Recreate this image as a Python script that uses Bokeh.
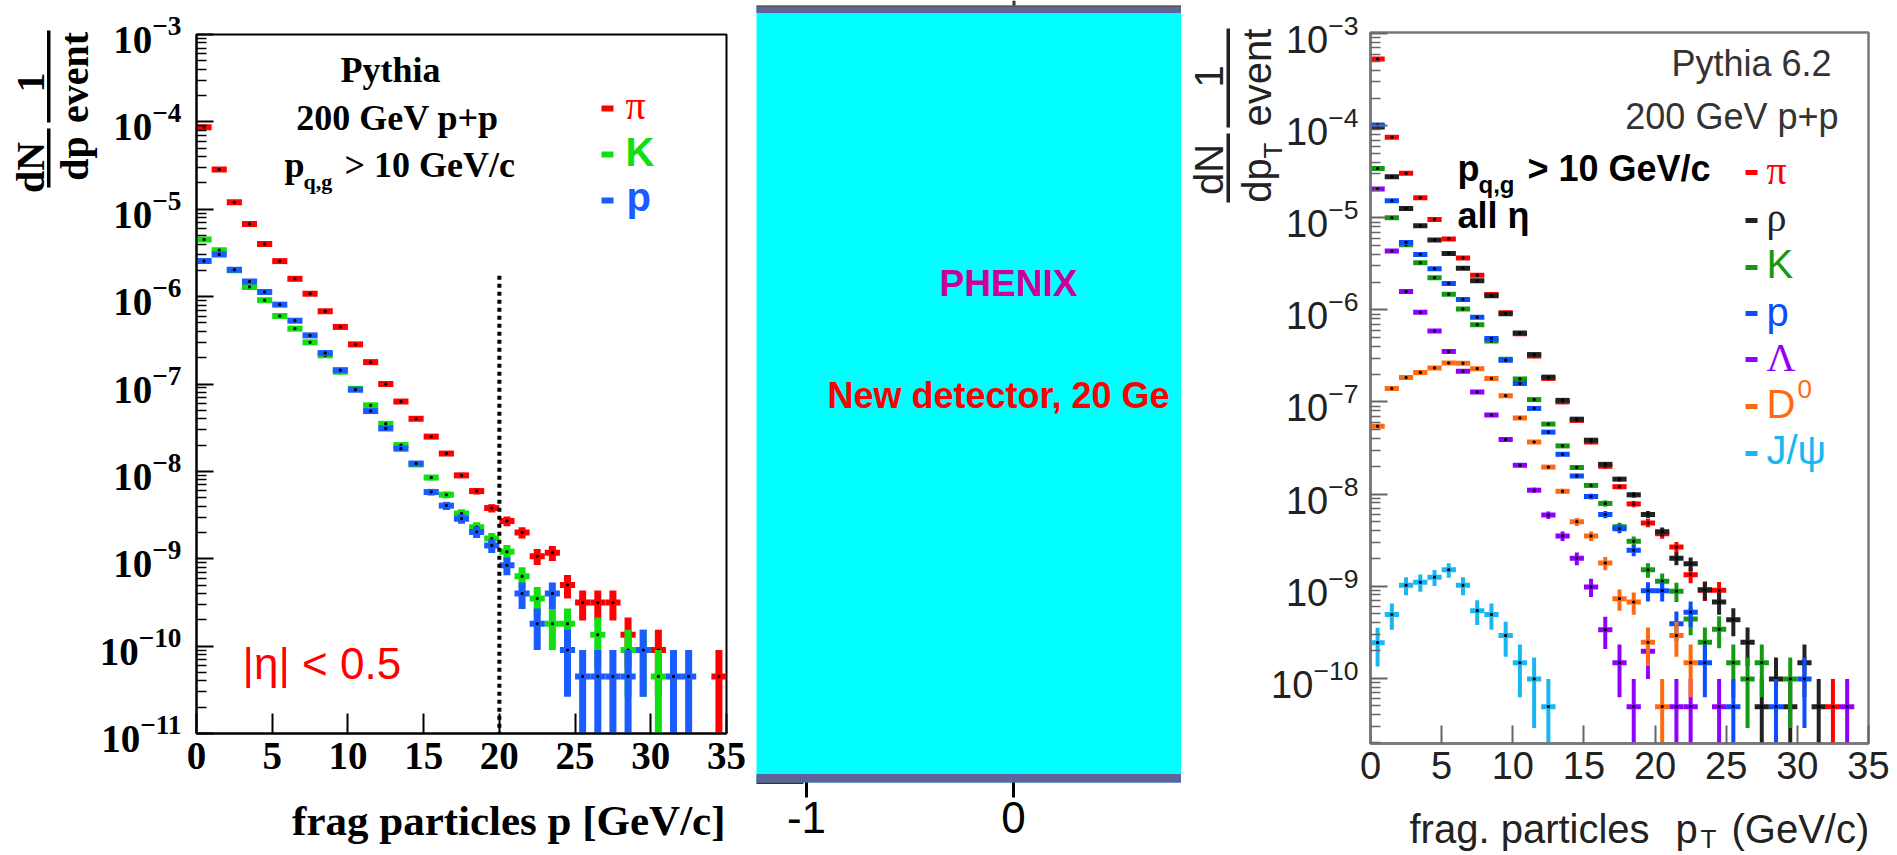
import math
from bokeh.plotting import figure
from bokeh.layouts import row
from bokeh.models import Range1d, FixedTicker, ColumnDataSource, GridBox
from bokeh.core.properties import value
from bokeh.embed import file_html
from bokeh.resources import INLINE

# ---------------- data ----------------
bin_centers = [0.5, 1.5, 2.5, 3.5, 4.5, 5.5, 6.5, 7.5, 8.5, 9.5, 10.5, 11.5, 12.5, 13.5,
               14.5, 15.5, 16.5, 17.5, 18.5, 19.5, 20.5, 21.5, 22.5, 23.5, 24.5, 25.5,
               26.5, 27.5, 28.5, 29.5, 30.5, 31.5, 32.5, 33.5, 34.5]
bin_width = 1.0

# Left panel: |eta| < 0.5, dN/dp per event
left_pi = [8.7e-5, 2.85e-5, 1.2e-5, 6.8e-6, 4.0e-6, 2.55e-6, 1.6e-6, 1.08e-6, 6.8e-7, 4.5e-7,
           2.84e-7, 1.78e-7, 1.0e-7, 6.3e-8, 4.0e-8, 2.5e-8, 1.6e-8, 9.0e-9, 5.95e-9, 3.8e-9,
           2.7e-9, 2.0e-9, 1.07e-9, 1.17e-9, 5.0e-10, 3.15e-10, 3.15e-10, 3.15e-10, 1.35e-10, None,
           9.0e-11, None, None, None, 4.5e-11]
left_K = [4.5e-6, 3.4e-6, 2.0e-6, 1.29e-6, 9.1e-7, 6.0e-7, 4.3e-7, 3.0e-7, 2.13e-7, 1.38e-7,
          8.8e-8, 5.7e-8, 3.5e-8, 2.0e-8, 1.2e-8, 8.5e-9, 5.4e-9, 3.3e-9, 2.3e-9, 1.7e-9,
          1.2e-9, 6.3e-10, 3.5e-10, 1.8e-10, 1.8e-10, None, 1.35e-10, None, 9.0e-11, 9.0e-11,
          4.5e-11, None, None, None, None]
left_p = [2.55e-6, 3.04e-6, 2.03e-6, 1.49e-6, 1.13e-6, 8.1e-7, 5.3e-7, 3.6e-7, 2.26e-7, 1.44e-7,
          8.6e-8, 4.9e-8, 3.1e-8, 1.82e-8, 1.23e-8, 5.8e-9, 4.05e-9, 2.87e-9, 2.03e-9, 1.42e-9,
          8.4e-10, 4.0e-10, 1.8e-10, 4.0e-10, 9.0e-11, 4.5e-11, 4.5e-11, 4.5e-11, 4.5e-11, 9.0e-11,
          None, 4.5e-11, 4.5e-11, None, None]
left_unit = 4.5e-11        # height of a single entry
left_cut = 20.0            # dotted line position
left_cut_top = 1.9e-6
left_xticks = [0, 5, 10, 15, 20, 25, 30, 35]
left_ylim = (1e-11, 1e-3)

# Right panel: all eta, dN/dpT per event
right_pi = [5.3e-4, 7.5e-5, 3.04e-5, 1.65e-5, 9.6e-6, 5.9e-6, 3.67e-6, 2.38e-6, 1.47e-6, 9.3e-7,
            5.5e-7, 3.15e-7, 1.8e-7, 1.0e-7, 6.3e-8, 3.67e-8, 2.0e-8, 1.2e-8, 7.8e-9, 4.85e-9,
            3.7e-9, 2.65e-9, 1.33e-9, 9.0e-10, 9.0e-10, None, None, None, None, None,
            None, None, 4.9e-11, None, None]
right_rho = [9.7e-5, 2.8e-5, 1.26e-5, 8.2e-6, 5.75e-6, 4.1e-6, 2.84e-6, 2.07e-6, 1.42e-6, 9.1e-7,
             5.6e-7, 3.27e-7, 1.86e-7, 1.04e-7, 6.5e-8, 3.84e-8, 2.1e-8, 1.45e-8, 9.8e-9, 6.0e-9,
             3.9e-9, 2.0e-9, 1.75e-9, 9.1e-10, 6.7e-10, 4.3e-10, 2.45e-10, 4.9e-11, 9.8e-11, 4.9e-11,
             1.47e-10, 4.9e-11, None, None, None]
right_K = [3.44e-5, 1.0e-5, 5.1e-6, 3.24e-6, 2.23e-6, 1.48e-6, 1.02e-6, 6.9e-7, 4.6e-7, 2.9e-7,
           1.78e-7, 1.06e-7, 5.75e-8, 3.33e-8, 1.94e-8, 1.24e-8, 7.9e-9, 4.4e-9, 3.06e-9, 1.5e-9,
           1.13e-9, 8.8e-10, 4.4e-10, 2.45e-10, 3.4e-10, 1.47e-10, 9.8e-11, 1.47e-10, None, 9.8e-11,
           None, None, None, None, None]
right_p = [1.02e-4, 1.53e-5, 5.4e-6, 4.0e-6, 2.8e-6, 1.94e-6, 1.3e-6, 8.3e-7, 4.9e-7, 2.84e-7,
           1.59e-7, 8.5e-8, 4.7e-8, 2.7e-8, 1.57e-8, 9.4e-9, 6.0e-9, 4.2e-9, 2.45e-9, 8.9e-10,
           8.9e-10, 3.9e-10, 5.2e-10, 1.47e-10, None, 4.9e-11, None, None, 4.9e-11, None,
           9.8e-11, None, None, None, None]
right_Lambda = [2.05e-5, 4.35e-6, 1.58e-6, 9.4e-7, 5.9e-7, 3.53e-7, 2.15e-7, 1.28e-7, 7.2e-8, 3.9e-8,
                2.05e-8, 1.1e-8, 5.9e-9, 3.5e-9, 2.0e-9, 9.8e-10, 3.35e-10, 1.47e-10, 4.9e-11, 1.96e-10,
                None, 4.9e-11, 4.9e-11, None, 4.9e-11, None, None, None, None, None,
                None, None, None, 4.9e-11, None]
right_D0 = [5.45e-8, 1.4e-7, 1.84e-7, 2.09e-7, 2.34e-7, 2.65e-7, 2.63e-7, 2.3e-7, 1.8e-7, 1.17e-7,
            6.7e-8, 3.67e-8, 1.96e-8, 1.07e-8, 5.0e-9, 3.5e-9, 1.78e-9, 7.3e-10, 6.7e-10, 2.45e-10,
            4.9e-11, 2.9e-10, 1.47e-10, None, None, None, None, None, None, None,
            None, None, None, None, None]
right_Jpsi = [2.43e-10, 4.9e-10, 1.02e-9, 1.1e-9, 1.25e-9, 1.5e-9, 1.02e-9, 5.4e-10, 4.9e-10, 2.9e-10,
              1.47e-10, 9.8e-11, 4.9e-11, None, None, None, None, None, None, None,
              None, None, None, None, None, None, None, None, None, None,
              None, None, None, None, None]
right_unit = 4.9e-11
right_xticks = [0, 5, 10, 15, 20, 25, 30, 35]
right_ylim = (1.95e-11, 1.03e-3)

mid_ticks = [-1, 0]
mid_tick_labels = {-1: "-1", 0: "0"}
mid_xlim = (-1.2415, 0.8116)

# ---------------- styling ----------------
SERIF = "Liberation Serif"
SANS = "Liberation Sans"
MID = {SERIF: 0.3375, SANS: 0.3465}   # (ascent - descent) / 2, in em
L_COL = {"pi": "#ff0000", "K": "#10e010", "p": "#1a5cff"}
R_COL = {"pi": "#ff0000", "rho": "#222222", "K": "#139a13", "p": "#0b4dff",
         "Lambda": "#9000ff", "D0": "#ff6a10", "Jpsi": "#18b6f2"}

W_A, W_B, W_C, H = 756, 425, 716, 855
W_ALL = W_A + W_B + W_C
A_FL, A_FR, A_FT, A_FB = 196, 726, 34, 733
B_FT, B_FB = 5, 782
C_OFF = W_A + W_B
C_FL, C_FR, C_FT, C_FB = 1370, 1868, 32, 743


def decade_ticks(lo_exp, hi_exp):
    return [10.0 ** e for e in range(lo_exp, hi_exp + 1)]


def minor_ticks(lo_exp, hi_exp):
    return [m * 10.0 ** e for e in range(lo_exp, hi_exp + 1) for m in range(2, 10)]


def add_series(p, vals, unit, color, hw, vw, ymin):
    xs, ys, lo, hi = [], [], [], []
    for x, v in zip(bin_centers, vals):
        if v is None:
            continue
        e = math.sqrt(v * unit)
        xs.append(x)
        ys.append(v)
        lo.append(v - e if v - e > 0 else ymin * 0.01)
        hi.append(v + e)
    src = ColumnDataSource(dict(x=xs, y=ys, lo=lo, hi=hi,
                                x0=[x - bin_width / 2 for x in xs],
                                x1=[x + bin_width / 2 for x in xs]))
    p.segment("x", "lo", "x", "hi", source=src, line_color=color, line_width=vw)
    p.segment("x0", "y", "x1", "y", source=src, line_color=color, line_width=hw)
    p.scatter("x", "y", source=src, size=2, color="black", marker="square")


def style_axes(p, color, font, fstyle, fsize, lw):
    for ax in (p.xaxis[0], p.yaxis[0]):
        ax.axis_line_color = color
        ax.axis_line_width = lw
        ax.major_tick_line_color = color
        ax.major_tick_line_width = 2
        ax.minor_tick_line_color = color
        ax.minor_tick_line_width = 1.5
        ax.major_tick_out = 0
        ax.minor_tick_out = 0
        ax.major_label_text_font = font
        ax.major_label_text_font_style = fstyle
        ax.major_label_text_font_size = fsize
    p.xaxis.minor_tick_line_color = None


# ---------------- left panel ----------------
pA = figure(width=W_A, height=H, x_range=Range1d(0, 35), y_range=Range1d(*left_ylim),
            y_axis_type="log", output_backend="svg", toolbar_location=None,
            min_border_left=A_FL, min_border_right=W_A - A_FR,
            min_border_top=A_FT, min_border_bottom=H - A_FB)
pA.frame_align = False
pA.grid.visible = False
pA.outline_line_color = "black"
pA.outline_line_width = 2
pA.outline_line_alpha = 1
pA.xaxis.ticker = FixedTicker(ticks=left_xticks)
pA.yaxis.ticker = FixedTicker(ticks=decade_ticks(-11, -3), minor_ticks=minor_ticks(-11, -4))
style_axes(pA, "black", SERIF, "bold", "39px", 2)
pA.xaxis.major_label_text_color = "black"
pA.yaxis.major_label_text_color = "black"
pA.xaxis.major_tick_in = 20
pA.xaxis.major_label_standoff = 9
pA.yaxis.major_tick_in = 17
pA.yaxis.minor_tick_in = 10
pA.yaxis.major_label_standoff = 15

add_series(pA, left_pi, left_unit, L_COL["pi"], 6, 7, left_ylim[0])
add_series(pA, left_K, left_unit, L_COL["K"], 6, 7, left_ylim[0])
add_series(pA, left_p, left_unit, L_COL["p"], 6, 7, left_ylim[0])
pA.segment(x0=[left_cut], y0=[left_ylim[0] * 0.5], x1=[left_cut], y1=[left_cut_top],
           line_color="black", line_width=4, line_dash="4 4")

# ---------------- middle panel ----------------
mid_top = B_FB - B_FT
pB = figure(width=W_B, height=H, x_range=Range1d(*mid_xlim), y_range=Range1d(0, mid_top),
            output_backend="svg", toolbar_location=None, y_axis_location=None,
            min_border_left=0, min_border_right=0, min_border_top=B_FT,
            min_border_bottom=H - B_FB)
pB.frame_align = False
pB.grid.visible = False
pB.outline_line_color = None
pB.background_fill_color = "#00ffff"
bar_col = "#61619c"
pB.quad(left=[mid_xlim[0]], right=[mid_xlim[1]], bottom=[0], top=[8], color=bar_col)
pB.quad(left=[mid_xlim[0]], right=[mid_xlim[1]], bottom=[mid_top - 7], top=[mid_top - 1], color=bar_col)
pB.quad(left=[mid_xlim[0]], right=[mid_xlim[1]], bottom=[mid_top - 1], top=[mid_top], color="#555555")
pB.xaxis.ticker = FixedTicker(ticks=mid_ticks)
pB.xaxis.major_label_overrides = mid_tick_labels
pB.xaxis.axis_line_color = None
pB.xaxis.major_tick_out = 15
pB.xaxis.major_tick_in = 0
pB.xaxis.major_tick_line_width = 3
pB.xaxis.major_tick_line_color = "black"
pB.xaxis.minor_tick_line_color = None
pB.xaxis.major_label_text_font = SANS
pB.xaxis.major_label_text_font_size = "44px"
pB.xaxis.major_label_text_color = "black"
pB.xaxis.major_label_standoff = 4

# ---------------- right panel ----------------
pC = figure(width=W_C, height=H, x_range=Range1d(0, 35), y_range=Range1d(*right_ylim),
            y_axis_type="log", output_backend="svg", toolbar_location=None,
            min_border_left=C_FL - C_OFF, min_border_right=C_OFF + W_C - C_FR,
            min_border_top=C_FT, min_border_bottom=H - C_FB)
pC.frame_align = False
pC.grid.visible = False
pC.outline_line_color = "#777777"
pC.outline_line_width = 2.5
pC.outline_line_alpha = 1
pC.xaxis.ticker = FixedTicker(ticks=right_xticks)
pC.yaxis.ticker = FixedTicker(ticks=decade_ticks(-10, -3), minor_ticks=minor_ticks(-11, -4))
style_axes(pC, "#777777", SANS, "normal", "38px", 2.5)
pC.xaxis.major_tick_line_color = "#666666"
pC.yaxis.major_tick_line_color = "#666666"
pC.yaxis.minor_tick_line_color = "#666666"
pC.xaxis.major_label_text_color = "#222222"
pC.yaxis.major_label_text_color = "#222222"
pC.xaxis.major_tick_in = 18
pC.xaxis.major_label_standoff = 8
pC.yaxis.major_tick_in = 17
pC.yaxis.minor_tick_in = 10
pC.yaxis.major_label_standoff = 12

for key, vals in [("pi", right_pi), ("rho", right_rho), ("K", right_K), ("p", right_p),
                  ("Lambda", right_Lambda), ("D0", right_D0), ("Jpsi", right_Jpsi)]:
    add_series(pC, vals, right_unit, R_COL[key], 5, 4, right_ylim[0])

# ---------------- transparent overlay with all texts (page pixel coords) ----------------
ov = figure(width=W_ALL, height=H, x_range=Range1d(0, W_ALL), y_range=Range1d(0, H),
            output_backend="svg", toolbar_location=None, x_axis_location=None,
            y_axis_location=None, min_border=0)
ov.frame_align = False
ov.grid.visible = False
ov.outline_line_color = None
ov.background_fill_alpha = 0
ov.border_fill_alpha = 0


def T(X, Yb, text, size, color, font, style="normal", align="left"):
    """Horizontal text; Yb = page y of the baseline."""
    ym = Yb - MID[font] * size
    ov.text(x=[X], y=[H - ym], text=[text], text_font=value(font),
            text_font_size=f"{size}px", text_font_style=style, text_color=color,
            text_align=align, text_baseline="middle")


def TR(Xc, Yc, text, size, color, font, style="normal"):
    """Text rotated 90 deg counter-clockwise, centred at page (Xc, Yc)."""
    ov.text(x=[Xc], y=[H - Yc], text=[text], angle=math.pi / 2, text_font=value(font),
            text_font_size=f"{size}px", text_font_style=style, text_color=color,
            text_align="center", text_baseline="middle")


def R(X0, X1, Y0, Y1, color):
    ov.quad(left=[X0], right=[X1], top=[H - Y0], bottom=[H - Y1], color=color, line_color=None)


# left panel texts
T(390, 82, "Pythia", 36, "black", SERIF, "bold", "center")
T(397, 130, "200 GeV p+p", 36, "black", SERIF, "bold", "center")
T(284, 177, "p", 36, "black", SERIF, "bold")
T(303, 188, "q,g", 22, "black", SERIF, "bold")
T(344, 177, "> 10 GeV/c", 36, "black", SERIF, "bold")
T(242, 678, "|η| < 0.5", 44, L_COL["pi"], SANS)
T(725, 835, "frag particles p [GeV/c]", 43, "black", SERIF, "bold", "right")
for Yd, key in [(108, "pi"), (154, "K"), (200, "p")]:
    R(601, 613, Yd - 3, Yd + 3, L_COL[key])
T(625, 118, "π", 40, L_COL["pi"], SERIF)
T(625, 165, "K", 40, L_COL["K"], SANS, "bold")
T(626, 210, "p", 40, L_COL["p"], SANS, "bold")
TR(30, 167, "dN", 40, "black", SERIF, "bold")
TR(30, 82, "1", 40, "black", SERIF, "bold")
TR(74, 158, "dp", 40, "black", SERIF, "bold")
TR(74, 77, "event", 40, "black", SERIF, "bold")
R(46.5, 50, 128, 187, "black")
R(46.5, 50, 30, 122, "black")

# middle panel texts and small frame details
T(1008, 296, "PHENIX", 37, "#cc0099", SANS, "bold", "center")
T(827, 407, "New detector, 20 Ge", 36, "#ff0000", SANS, "bold")
R(1012, 1015, 0, 5, "#333333")
R(756, 803, 782, 783.5, "#333333")

# right panel texts
T(1831, 75, "Pythia 6.2", 36, "#333333", SANS, "normal", "right")
T(1838, 128, "200 GeV p+p", 36, "#333333", SANS, "normal", "right")
T(1457, 180, "p", 36, "black", SANS, "bold")
T(1478, 192, "q,g", 24, "black", SANS, "bold")
T(1527, 180, "> 10 GeV/c", 36, "black", SANS, "bold")
T(1457, 227, "all η", 36, "black", SANS, "bold")
leg = [("pi", "π", 172, 183, SERIF), ("rho", "ρ", 220, 230, SERIF), ("K", "K", 267, 277, SANS),
       ("p", "p", 313, 325, SANS), ("Lambda", "Λ", 359, 370, SERIF), ("D0", "D", 406, 417, SANS),
       ("Jpsi", "J/ψ", 453, 463, SANS)]
for key, txt, yd, yb, font in leg:
    R(1745, 1757, yd - 2.5, yd + 2.5, R_COL[key])
    T(1766, yb, txt, 40, R_COL[key], font)
T(1797, 398, "0", 26, R_COL["D0"], SANS)
T(1409, 842, "frag. particles", 40, "#222222", SANS)
T(1675, 842, "p", 40, "#222222", SANS)
T(1700, 848, "T", 26, "#222222", SANS)
T(1731, 842, "(GeV/c)", 40, "#222222", SANS)
TR(1208, 169, "dN", 40, "#222222", SANS)
TR(1208, 76, "1", 40, "#222222", SANS)
TR(1256, 180, "dp", 40, "#222222", SANS)
TR(1272, 150, "T", 26, "#222222", SANS)
TR(1256, 77, "event", 40, "#222222", SANS)
R(1226, 1229.5, 133, 202, "#222222")
R(1226, 1229.5, 28, 127, "#222222")

panels = row(pA, pB, pC, spacing=0)
layout = GridBox(children=[(panels, 0, 0), (ov, 0, 0)])
open("out.html", "w").write(file_html(layout, INLINE))
